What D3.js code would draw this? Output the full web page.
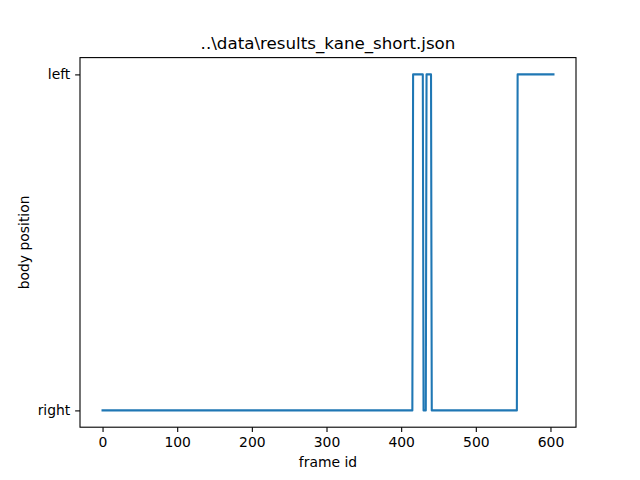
<!DOCTYPE html>
<html>
<head>
<meta charset="utf-8">
<script src="https://cdn.jsdelivr.net/npm/d3@7"></script>
<style>
  body { margin: 0; background: #fff; }
  text { font-family: "DejaVu Sans", sans-serif; fill: #000; }
</style>
</head>
<body>
<div id="chart"></div>
<script>
// vertices of the line (frame id, body position)
var frameIds = [0, 415, 416, 429, 430, 433, 434, 440, 441, 555, 556, 604];
var positions = ["right", "right", "left", "left", "right", "right", "left", "left", "right", "right", "left", "left"];
var categories = ["right", "left"];
var xTicks = [0, 100, 200, 300, 400, 500, 600];

var width = 640, height = 480;
var margin = {left: 80, right: 64, top: 57.6, bottom: 52.8};

var svg = d3.select('#chart')
  .append('svg')
  .attr('width', width)
  .attr('height', height);

// matplotlib style 5% padding on each side
var xmin = d3.min(frameIds), xmax = d3.max(frameIds);
var pad = (xmax - xmin) * 0.05;
var x = d3.scaleLinear()
  .domain([xmin - pad, xmax + pad])
  .range([margin.left, width - margin.right]);

var catIndex = d3.scaleOrdinal().domain(categories).range([0, 1]);
var y = d3.scaleLinear()
  .domain([-0.05, 1.05])
  .range([height - margin.bottom, margin.top]);

var tickLen = 4.86;

var xAxis = d3.axisBottom(x).tickValues(xTicks).tickSize(tickLen).tickPadding(4.86).tickFormat(d3.format('d'));
var yAxis = d3.axisLeft(y).tickValues([0, 1]).tickSize(tickLen).tickPadding(4.86)
  .tickFormat(function(d) { return categories[d]; });

var line = d3.line()
  .x(function(d, i) { return x(frameIds[i]); })
  .y(function(d) { return y(catIndex(d)); });

svg.append('path')
  .datum(positions)
  .attr('d', line)
  .attr('fill', 'none')
  .attr('stroke', '#1f77b4')
  .attr('stroke-width', 2.08)
  .attr('stroke-linejoin', 'round')
  .attr('stroke-linecap', 'square');

var gx = svg.append('g')
  .attr('transform', 'translate(0,' + (height - margin.bottom) + ')')
  .call(xAxis);
var gy = svg.append('g')
  .attr('transform', 'translate(' + margin.left + ',0)')
  .call(yAxis);

[gx, gy].forEach(function(g) {
  g.select('.domain').remove();
  g.selectAll('.tick line').attr('stroke', '#000').attr('stroke-width', 1.1);
  g.selectAll('.tick text').style('font-size', '13.9px').attr('fill', '#000');
});

// frame around the axes
svg.append('rect')
  .attr('x', margin.left)
  .attr('y', margin.top)
  .attr('width', width - margin.left - margin.right)
  .attr('height', height - margin.top - margin.bottom)
  .attr('fill', 'none')
  .attr('stroke', '#000')
  .attr('stroke-width', 1.1);

svg.append('text')
  .attr('x', (margin.left + width - margin.right) / 2)
  .attr('y', 49)
  .attr('text-anchor', 'middle')
  .style('font-size', '16.7px')
  .text('..\\data\\results_kane_short.json');

svg.append('text')
  .attr('x', (margin.left + width - margin.right) / 2)
  .attr('y', 467)
  .attr('text-anchor', 'middle')
  .style('font-size', '13.9px')
  .text('frame id');

svg.append('text')
  .attr('transform', 'translate(29,' + ((margin.top + height - margin.bottom) / 2) + ') rotate(-90)')
  .attr('text-anchor', 'middle')
  .style('font-size', '13.9px')
  .text('body position');
</script>
</body>
</html>
